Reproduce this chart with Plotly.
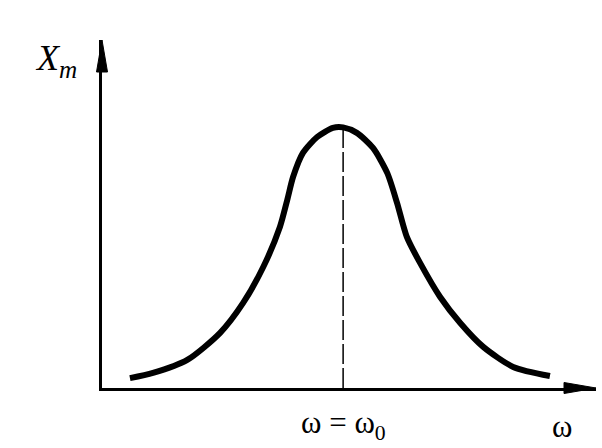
import plotly.graph_objects as go

# resonance curve: angular frequency (arbitrary units) vs amplitude X_m
omega = [0.57, 1.04, 1.74, 2.41, 2.88, 3.29, 3.63, 3.78, 3.90, 4.10, 4.39, 4.71, 4.92,
         5.20, 5.53, 5.82, 6.02, 6.22, 6.49, 6.90, 7.31, 7.78, 8.39, 9.14]
xm = [0.38, 0.58, 1.08, 2.12, 3.27, 4.65, 6.19, 7.23, 8.12, 9.04, 9.65, 10.0, 10.02,
      9.81, 9.23, 8.27, 7.12, 5.81, 4.81, 3.50, 2.50, 1.58, 0.81, 0.46]
omega0 = 4.92
peak = 10.02

X_MAX = 10.08
Y_MAX = 13.38

fig = go.Figure()
fig.add_trace(go.Scatter(x=omega, y=xm, mode="lines",
                         line=dict(color="black", width=6, shape="spline", smoothing=0.7),
                         hoverinfo="skip", showlegend=False))
fig.add_trace(go.Scatter(x=[omega0, omega0], y=[0, peak], mode="lines",
                         line=dict(color="black", width=1.5, dash="20px,4px"),
                         hoverinfo="skip", showlegend=False))

serif = "Liberation Serif, Times New Roman, serif"
ann = [
    dict(x=omega0, y=0, text="ω = ω<sub>0</sub>", showarrow=False, yanchor="middle", yshift=-37,
         font=dict(family=serif, size=31, color="black")),
    dict(x=9.38, y=0, text="ω", showarrow=False, yanchor="middle", yshift=-38,
         font=dict(family=serif, size=31, color="black")),
    dict(x=0, y=Y_MAX, text="<i>X</i><sub><i>m</i></sub>", showarrow=False, xanchor="center", yanchor="middle",
         xshift=-46, yshift=-20, font=dict(family=serif, size=36, color="black")),
]

shapes = [
    # arrowheads at the ends of the axes (paper refs so they are not clipped)
    dict(type="path", xref="paper", yref="paper", xsizemode="pixel", ysizemode="pixel", xanchor=1, yanchor=0,
         path="M 0 0 L -32 5.5 L -32 -5.5 Z", fillcolor="black", line=dict(color="black", width=1)),
    dict(type="path", xref="paper", yref="paper", xsizemode="pixel", ysizemode="pixel", xanchor=0, yanchor=1,
         path="M 0 0 L -5.5 -32 L 5.5 -32 Z", fillcolor="black", line=dict(color="black", width=1)),
]

fig.update_layout(
    width=602, height=448,
    margin=dict(l=102, r=6, t=40, b=60, autoexpand=False),
    plot_bgcolor="white", paper_bgcolor="white",
    xaxis=dict(range=[0, X_MAX], showgrid=False, zeroline=False, showticklabels=False, ticks="",
               showline=True, linecolor="black", linewidth=2.5),
    yaxis=dict(range=[0, Y_MAX], showgrid=False, zeroline=False, showticklabels=False, ticks="",
               showline=True, linecolor="black", linewidth=2.5),
    annotations=ann,
    shapes=shapes,
)
fig.write_html("out.html", config={"displayModeBar": False},
               post_script="document.body.style.margin='0';")
